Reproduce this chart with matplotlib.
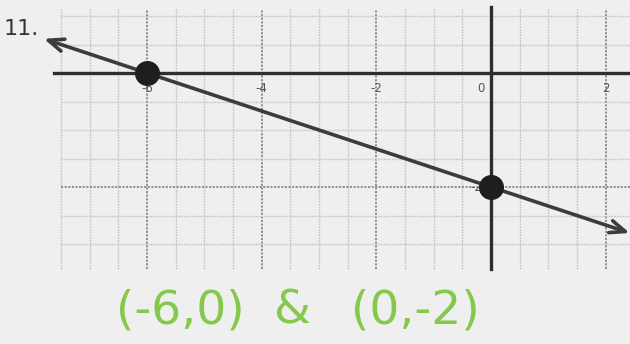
import numpy as np
import matplotlib
matplotlib.use("Agg")
import matplotlib.pyplot as plt

# Coordinate plane contents
x_ticks = [-6, -4, -2, 0, 2]
x_tick_labels = ["-6", "-4", "-2", "0", "2"]
y_tick_labels = {-2: "-2"}
points_x = [-6, 0]
points_y = [0, -2]
line_x_ends = [-7.8, 2.42]
problem_label = "11."
answer_parts = ["(-6,0)", "&", "(0,-2)"]

fig = plt.figure(figsize=(6.3, 3.44), dpi=100)
fig.patch.set_facecolor("#efefef")
ax = fig.add_axes([0, 0, 1, 1])
ax.set_facecolor("#efefef")
ax.set_xlim(-8.565, 2.425)
ax.set_ylim(-4.754, 1.281)
ax.axis("off")

# grid: half-unit dotted lines, darker at labelled values
gx = np.arange(-7.5, 2.51, 0.5)
gy = np.arange(-3.0, 1.01, 0.5)
y_top, y_bot = 1.13, -3.44
x_left, x_right = -7.5, 2.5
for v in gx:
    strong = v in (-6, -4, -2, 2)
    ax.plot([v, v], [y_bot, y_top], color="#8a8a8a" if strong else "#c4c4c4",
            lw=1.3 if strong else 1.0, ls=(0, (1.2, 0.8)), zorder=1)
for h in gy:
    strong = h == -2
    ax.plot([x_left, x_right], [h, h], color="#8a8a8a" if strong else "#c4c4c4",
            lw=1.3 if strong else 1.0, ls=(0, (1.2, 0.8)), zorder=1)

# axes
ax.plot([-7.62, 2.5], [0, 0], color="#2e2e2e", lw=2.4, zorder=2)
ax.plot([0, 0], [y_bot, 1.15], color="#2e2e2e", lw=2.4, zorder=2)

# tick labels
for t, lab in zip(x_ticks, x_tick_labels):
    xx = t - 0.17 if t == 0 else t
    ax.text(xx, -0.27, lab, ha="center", va="center", fontsize=8.5,
            color="#555555", zorder=2)
for t, lab in y_tick_labels.items():
    ax.text(-0.15, t, lab, ha="right", va="center", fontsize=8.5,
            color="#555555", zorder=2)

# line through the two points with arrows at both ends
slope = (points_y[1] - points_y[0]) / (points_x[1] - points_x[0])
line_y_ends = [points_y[0] + slope * (xv - points_x[0]) for xv in line_x_ends]
ax.annotate("", xy=(line_x_ends[0], line_y_ends[0]),
            xytext=(line_x_ends[1], line_y_ends[1]),
            arrowprops=dict(arrowstyle="<->,head_length=1.1,head_width=0.45",
                            lw=2.6, color="#3c3c3c", shrinkA=0, shrinkB=0),
            zorder=3)

# plotted points
ax.plot(points_x, points_y, "o", color="#1e1e1e", ms=17, zorder=4)

# problem number and handwritten answer
fig.text(4 / 630, 1 - 29 / 344, problem_label, fontsize=16, color="#333333",
         ha="left", va="center")
for part, cx in zip(answer_parts, [180, 292, 415]):
    fig.text(cx / 630, 1 - 311 / 344, part, fontsize=34, color="#84c84c",
             ha="center", va="center")

fig.savefig("out.png", dpi=100, facecolor=fig.get_facecolor())
